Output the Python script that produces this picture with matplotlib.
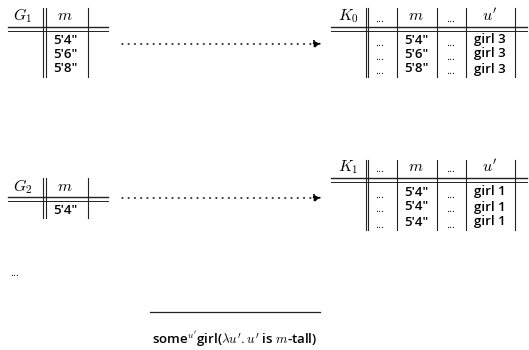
import matplotlib
matplotlib.use("Agg")
import matplotlib.pyplot as plt

plt.rcParams['font.family'] = ['Open Sans', 'DejaVu Sans']
plt.rcParams['mathtext.fontset'] = 'cm'

# table contents
g1_name = r"$G_1$"
g1_heights = ["5\u20324\u2033", "5\u20326\u2033", "5\u20328\u2033"]
k0_name = r"$K_0$"
k0_heights = ["5\u20324\u2033", "5\u20326\u2033", "5\u20328\u2033"]
k0_girls = ["girl 3", "girl 3", "girl 3"]

g2_name = r"$G_2$"
g2_heights = ["5\u20324\u2033"]
k1_name = r"$K_1$"
k1_heights = ["5\u20324\u2033", "5\u20324\u2033", "5\u20324\u2033"]
k1_girls = ["girl 1", "girl 1", "girl 1"]

caption = r"some$^{u'}$girl($\lambda u'.u'$ is $m$-tall)"

FS = 9.5
MFS = 11.5
W = 'semibold'
LC = '#222222'


def rules(ax, x0, x1, y, top, bottom, vlines, dbl):
    # double horizontal rule under the header
    ax.plot([x0, x1], [y, y], color=LC, lw=1.0)
    ax.plot([x0, x1], [y + 3.5, y + 3.5], color=LC, lw=0.7)
    for xv in vlines:
        ax.plot([xv, xv], [top, bottom], color=LC, lw=0.8)
    for xv in dbl:
        ax.plot([xv, xv], [top, bottom], color=LC, lw=0.8)
        ax.plot([xv + 2.6, xv + 2.6], [top, bottom], color=LC, lw=0.8)


def dots(ax, x, y):
    ax.text(x, y + 3, "...", fontsize=8, ha='center', va='center')


def small_table(ax, name, heights, y_head, y_rule, top, row_y):
    ax.text(23, y_head, name, fontsize=MFS, ha='center', va='center')
    ax.text(65, y_head, r"$m$", fontsize=MFS, ha='center', va='center')
    for h, yy in zip(heights, row_y):
        ax.text(65, yy, h, fontsize=FS, ha='center', va='center', weight=W)
    bottom = row_y[-1] + 8
    rules(ax, 8, 108, y_rule, top, bottom, [88], [43])


def big_table(ax, name, heights, girls, y_head, y_rule, top, row_y):
    ax.text(348, y_head, name, fontsize=MFS, ha='center', va='center')
    dots(ax, 380, y_head)
    ax.text(416, y_head, r"$m$", fontsize=MFS, ha='center', va='center')
    dots(ax, 451, y_head)
    ax.text(490, y_head, r"$u'$", fontsize=MFS, ha='center', va='center')
    for h, g, yy in zip(heights, girls, row_y):
        dots(ax, 380, yy)
        ax.text(416, yy, h, fontsize=FS, ha='center', va='center', weight=W)
        dots(ax, 451, yy)
        ax.text(490, yy, g, fontsize=FS, ha='center', va='center', weight=W)
    bottom = row_y[-1] + 8
    rules(ax, 331, 527, y_rule, top, bottom, [397, 437, 466, 515], [365.5])


def dotted_arrow(ax, y):
    ax.annotate("", xy=(322, y), xytext=(122, y),
                arrowprops=dict(arrowstyle='-|>', linestyle=(0, (0.5, 3.6)),
                                color='black', lw=1.1, mutation_scale=12,
                                shrinkA=0, shrinkB=0))


fig = plt.figure(figsize=(5.29, 3.5), dpi=100)
ax = fig.add_axes([0, 0, 1, 1])
ax.set_xlim(0, 529)
ax.set_ylim(350, 0)
ax.axis('off')

small_table(ax, g1_name, g1_heights, 16, 27, 8, [40, 54, 69])
big_table(ax, k0_name, k0_heights, k0_girls, 16, 27, 8, [40, 54, 69])
dotted_arrow(ax, 44)

small_table(ax, g2_name, g2_heights, 187, 197, 178, [210])
big_table(ax, k1_name, k1_heights, k1_girls, 167, 178, 160, [192, 207, 222])
dotted_arrow(ax, 198)

dots(ax, 15, 270)
ax.plot([150, 320], [312, 312], color=LC, lw=0.9)
ax.text(235, 339, caption, fontsize=FS, ha='center', va='center', weight=W)

fig.savefig("out.png", dpi=100)
